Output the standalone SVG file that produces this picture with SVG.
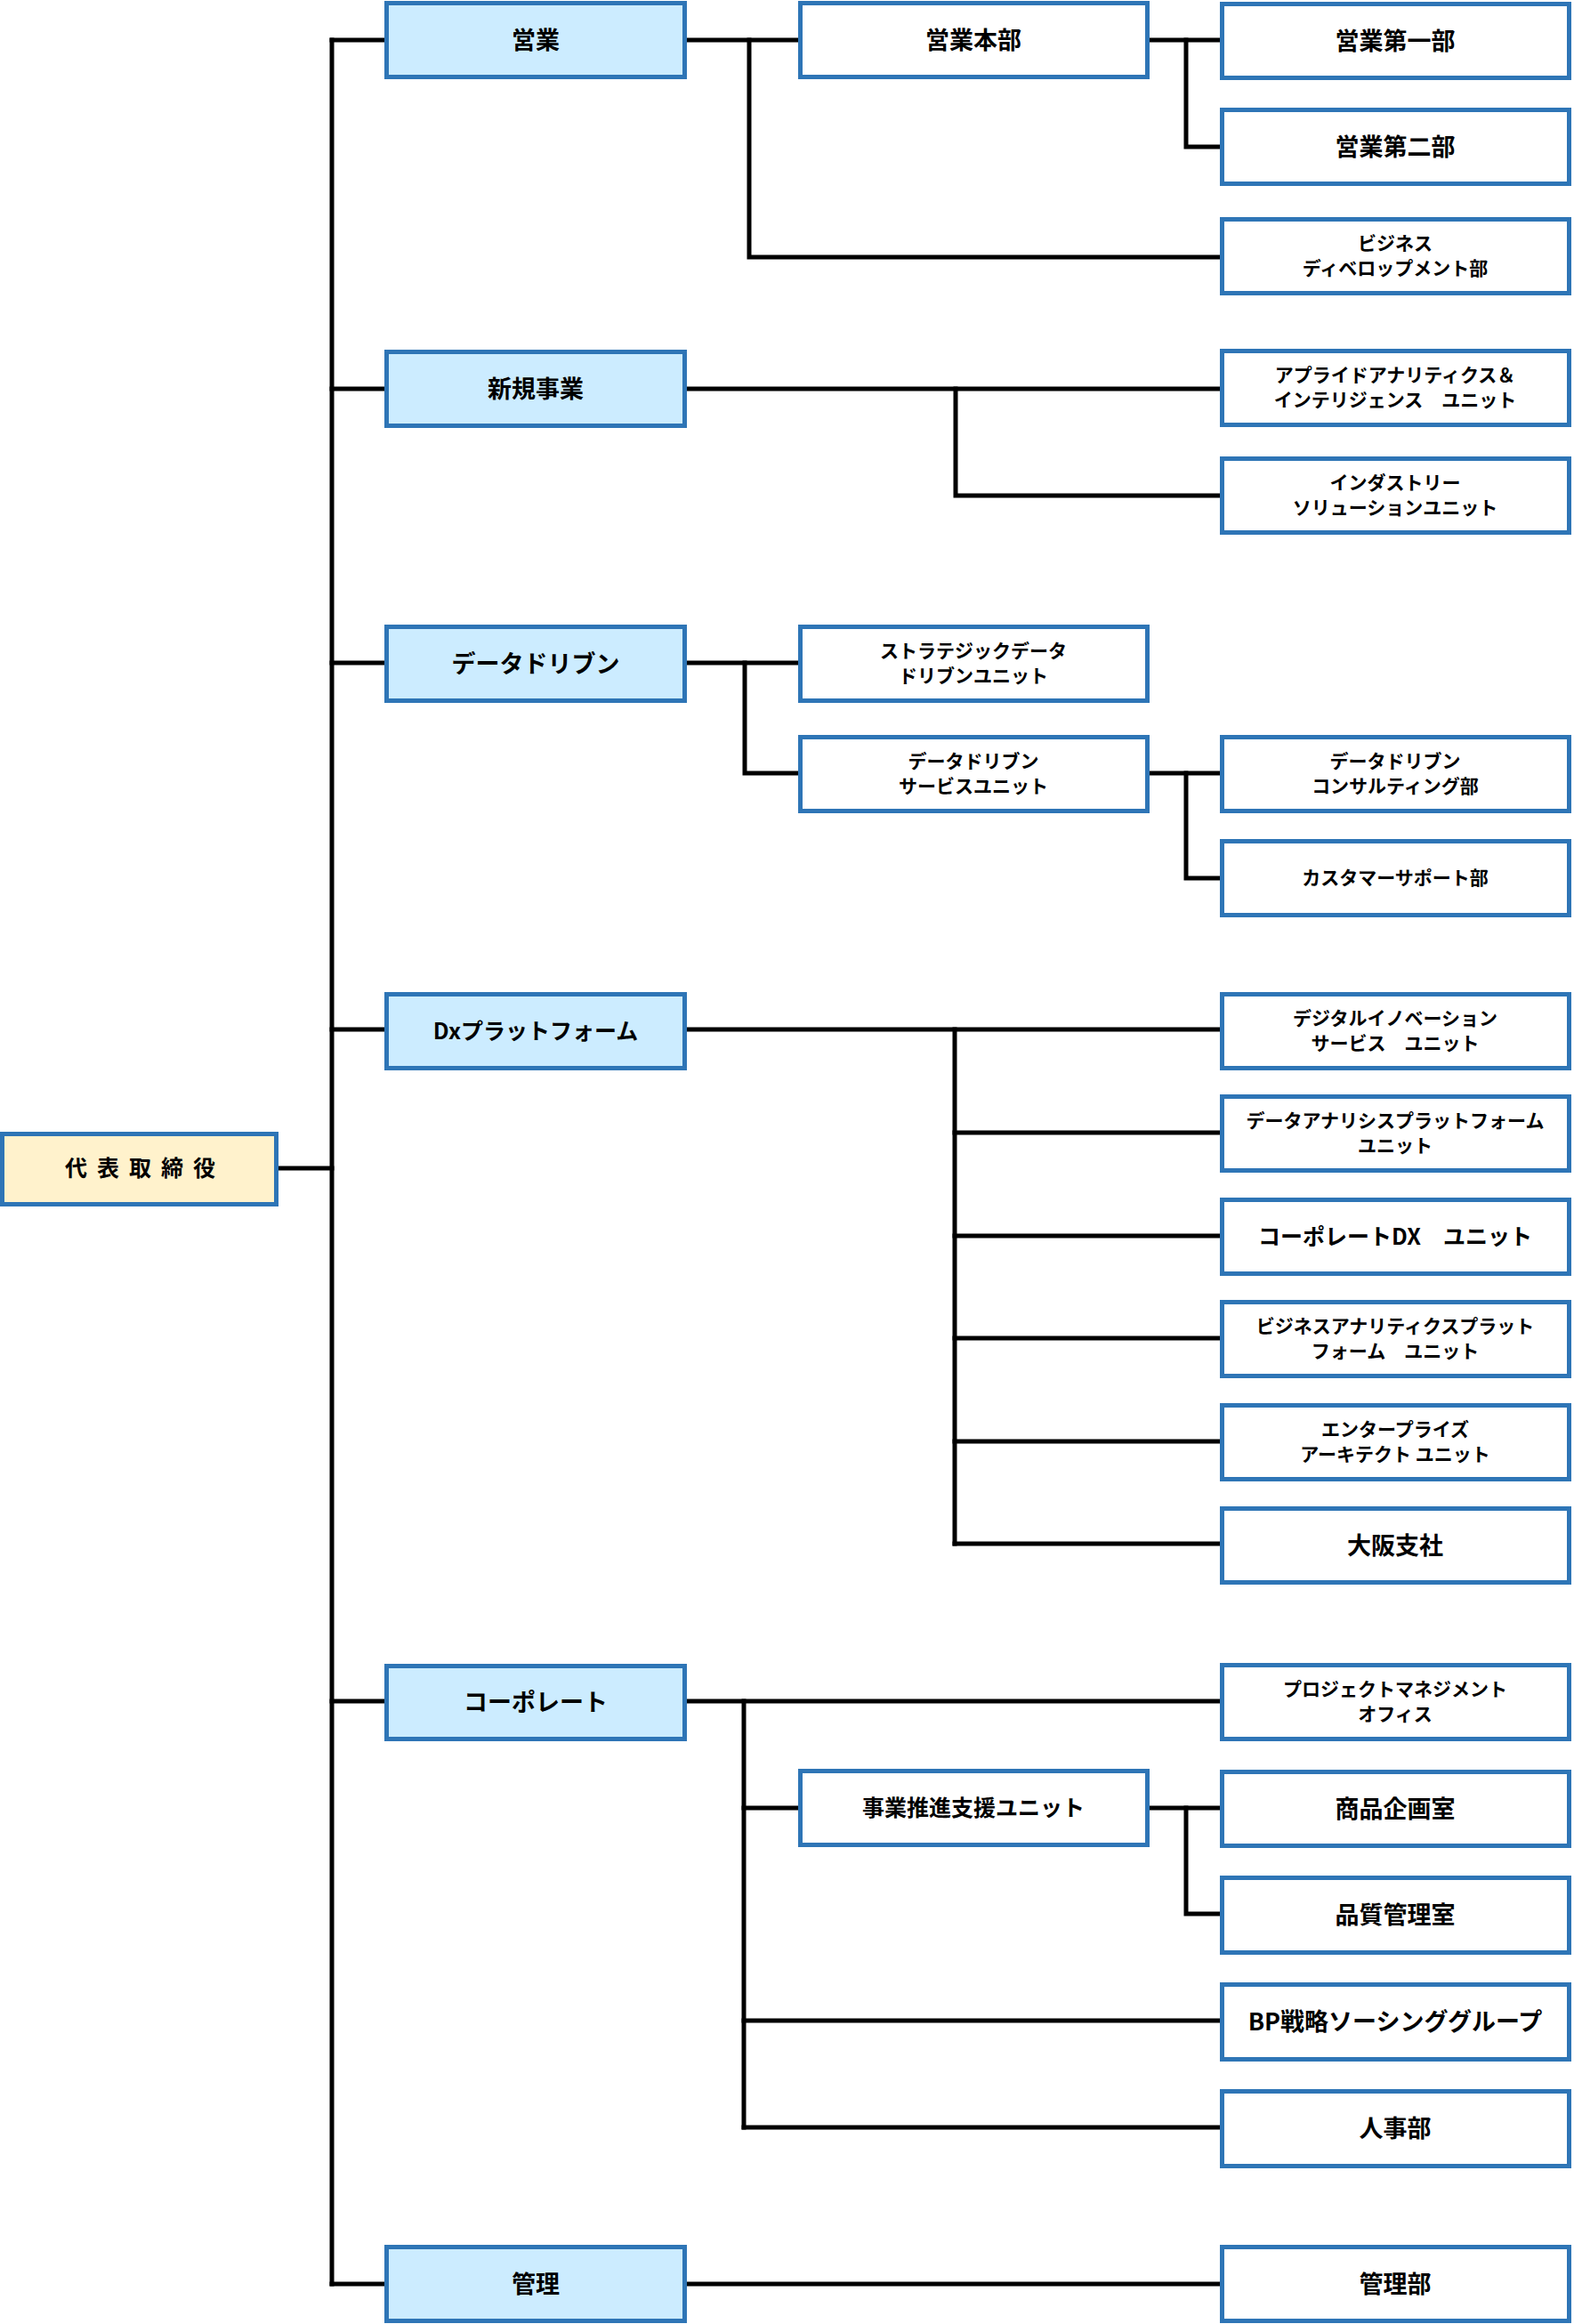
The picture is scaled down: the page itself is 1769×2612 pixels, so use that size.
<svg xmlns="http://www.w3.org/2000/svg" width="1769" height="2612" viewBox="0 0 1769 2612">
<style>
  .box { stroke: #2E75B6; stroke-width: 5; fill: #FFFFFF; }
  .l1 { fill: #CCECFF; }
  .root { fill: #FFF2CC; }
  .t { font-family: "Noto Sans CJK JP", "Noto Sans", sans-serif; font-weight: 700; fill: #000000; text-anchor: middle; dominant-baseline: central; }
  .big { font-size: 27px; }
  .mid { font-size: 25px; }
  .sm { font-size: 21px; }
  .conn line, .conn polyline { stroke: #000000; stroke-width: 5; fill: none; stroke-linecap: square; }
</style>
<rect x="0" y="0" width="1769" height="2612" fill="#FFFFFF"/>

<g class="conn" id="connectors">
  <line x1="311" y1="1313" x2="373" y2="1313"/>
  <line x1="373" y1="45" x2="373" y2="2567"/>
  <line x1="373" y1="45" x2="433" y2="45"/>
  <line x1="373" y1="437" x2="433" y2="437"/>
  <line x1="373" y1="745" x2="433" y2="745"/>
  <line x1="373" y1="1157" x2="433" y2="1157"/>
  <line x1="373" y1="1912" x2="433" y2="1912"/>
  <line x1="373" y1="2567" x2="433" y2="2567"/>
  <line x1="772" y1="45" x2="897" y2="45"/>
  <polyline points="842,45 842,289 1371,289"/>
  <line x1="1292" y1="45" x2="1371" y2="45"/>
  <polyline points="1333,45 1333,165 1371,165"/>
  <line x1="772" y1="437" x2="1371" y2="437"/>
  <polyline points="1074,437 1074,557 1371,557"/>
  <line x1="772" y1="745" x2="897" y2="745"/>
  <polyline points="837,745 837,869 897,869"/>
  <line x1="1292" y1="869" x2="1371" y2="869"/>
  <polyline points="1333,869 1333,987 1371,987"/>
  <line x1="772" y1="1157" x2="1371" y2="1157"/>
  <line x1="1073" y1="1157" x2="1073" y2="1735"/>
  <line x1="1073" y1="1273" x2="1371" y2="1273"/>
  <line x1="1073" y1="1389" x2="1371" y2="1389"/>
  <line x1="1073" y1="1504" x2="1371" y2="1504"/>
  <line x1="1073" y1="1620" x2="1371" y2="1620"/>
  <line x1="1073" y1="1735" x2="1371" y2="1735"/>
  <line x1="772" y1="1912" x2="1371" y2="1912"/>
  <line x1="836" y1="1912" x2="836" y2="2391"/>
  <line x1="836" y1="2032" x2="897" y2="2032"/>
  <line x1="836" y1="2271" x2="1371" y2="2271"/>
  <line x1="836" y1="2391" x2="1371" y2="2391"/>
  <line x1="1292" y1="2032" x2="1371" y2="2032"/>
  <polyline points="1333,2032 1333,2151 1371,2151"/>
  <line x1="772" y1="2567" x2="1371" y2="2567"/>
</g>

<g id="n-ceo">
  <rect class="box root" x="2.5" y="1274.5" width="308" height="79"/>
  <text class="t mid" x="163" y="1311" letter-spacing="11">代表取締役</text>
</g>

<g id="n-eigyo">
  <rect class="box l1" x="434.5" y="3.5" width="335" height="83"/>
  <text class="t big" x="602" y="43">営業</text>
</g>
<g id="n-shinki">
  <rect class="box l1" x="434.5" y="395.5" width="335" height="83"/>
  <text class="t big" x="602" y="435">新規事業</text>
</g>
<g id="n-datadriven">
  <rect class="box l1" x="434.5" y="704.5" width="335" height="83"/>
  <text class="t big" x="602" y="744">データドリブン</text>
</g>
<g id="n-dxplatform">
  <rect class="box l1" x="434.5" y="1117.5" width="335" height="83"/>
  <text class="t mid" x="602" y="1157">Dxプラットフォーム</text>
</g>
<g id="n-corporate">
  <rect class="box l1" x="434.5" y="1872.5" width="335" height="82"/>
  <text class="t big" x="602" y="1911">コーポレート</text>
</g>
<g id="n-kanri">
  <rect class="box l1" x="434.5" y="2525.5" width="335" height="83"/>
  <text class="t big" x="602" y="2565">管理</text>
</g>

<g id="n-eigyohonbu">
  <rect class="box" x="899.5" y="3.5" width="390" height="83"/>
  <text class="t big" x="1094" y="43">営業本部</text>
</g>
<g id="n-strategic">
  <rect class="box" x="899.5" y="704.5" width="390" height="83"/>
  <text class="t sm" x="1094" y="730">ストラテジックデータ</text>
  <text class="t sm" x="1094" y="758">ドリブンユニット</text>
</g>
<g id="n-dd-service">
  <rect class="box" x="899.5" y="828.5" width="390" height="83"/>
  <text class="t sm" x="1094" y="854">データドリブン</text>
  <text class="t sm" x="1094" y="882">サービスユニット</text>
</g>
<g id="n-jigyosuishin">
  <rect class="box" x="899.5" y="1990.5" width="390" height="83"/>
  <text class="t mid" x="1094" y="2030">事業推進支援ユニット</text>
</g>

<g id="n-eigyo1">
  <rect class="box" x="1373.5" y="4.5" width="390" height="83"/>
  <text class="t big" x="1568" y="44">営業第一部</text>
</g>
<g id="n-eigyo2">
  <rect class="box" x="1373.5" y="123.5" width="390" height="83"/>
  <text class="t big" x="1568" y="163">営業第二部</text>
</g>
<g id="n-bizdev">
  <rect class="box" x="1373.5" y="246.5" width="390" height="83"/>
  <text class="t sm" x="1568" y="272">ビジネス</text>
  <text class="t sm" x="1568" y="300">ディベロップメント部</text>
</g>
<g id="n-applied">
  <rect class="box" x="1373.5" y="394.5" width="390" height="83"/>
  <text class="t sm" x="1568" y="420">アプライドアナリティクス＆</text>
  <text class="t sm" x="1568" y="448">インテリジェンス　ユニット</text>
</g>
<g id="n-industry">
  <rect class="box" x="1373.5" y="515.5" width="390" height="83"/>
  <text class="t sm" x="1568" y="541">インダストリー</text>
  <text class="t sm" x="1568" y="569">ソリューションユニット</text>
</g>
<g id="n-dd-consulting">
  <rect class="box" x="1373.5" y="828.5" width="390" height="83"/>
  <text class="t sm" x="1568" y="854">データドリブン</text>
  <text class="t sm" x="1568" y="882">コンサルティング部</text>
</g>
<g id="n-customer">
  <rect class="box" x="1373.5" y="945.5" width="390" height="83"/>
  <text class="t sm" x="1568" y="985">カスタマーサポート部</text>
</g>
<g id="n-digital">
  <rect class="box" x="1373.5" y="1117.5" width="390" height="83"/>
  <text class="t sm" x="1568" y="1143">デジタルイノベーション</text>
  <text class="t sm" x="1568" y="1171">サービス　ユニット</text>
</g>
<g id="n-dataanalysis">
  <rect class="box" x="1373.5" y="1232.5" width="390" height="83"/>
  <text class="t sm" x="1568" y="1258">データアナリシスプラットフォーム</text>
  <text class="t sm" x="1568" y="1286">ユニット</text>
</g>
<g id="n-corpdx">
  <rect class="box" x="1373.5" y="1348.5" width="390" height="83"/>
  <text class="t mid" x="1568" y="1388">コーポレートDX　ユニット</text>
</g>
<g id="n-bizanalytics">
  <rect class="box" x="1373.5" y="1463.5" width="390" height="83"/>
  <text class="t sm" x="1568" y="1489">ビジネスアナリティクスプラット</text>
  <text class="t sm" x="1568" y="1517">フォーム　ユニット</text>
</g>
<g id="n-enterprise">
  <rect class="box" x="1373.5" y="1579.5" width="390" height="83"/>
  <text class="t sm" x="1568" y="1605">エンタープライズ</text>
  <text class="t sm" x="1568" y="1633">アーキテクト ユニット</text>
</g>
<g id="n-osaka">
  <rect class="box" x="1373.5" y="1695.5" width="390" height="83"/>
  <text class="t big" x="1568" y="1735">大阪支社</text>
</g>
<g id="n-pmo">
  <rect class="box" x="1373.5" y="1871.5" width="390" height="83"/>
  <text class="t sm" x="1568" y="1897">プロジェクトマネジメント</text>
  <text class="t sm" x="1568" y="1925">オフィス</text>
</g>
<g id="n-shohin">
  <rect class="box" x="1373.5" y="1991.5" width="390" height="83"/>
  <text class="t big" x="1568" y="2031">商品企画室</text>
</g>
<g id="n-hinshitsu">
  <rect class="box" x="1373.5" y="2110.5" width="390" height="84"/>
  <text class="t big" x="1568" y="2150">品質管理室</text>
</g>
<g id="n-bp">
  <rect class="box" x="1373.5" y="2230.5" width="390" height="84"/>
  <text class="t big" x="1568" y="2270">BP戦略ソーシンググループ</text>
</g>
<g id="n-jinji">
  <rect class="box" x="1373.5" y="2350.5" width="390" height="84"/>
  <text class="t big" x="1568" y="2390">人事部</text>
</g>
<g id="n-kanribu">
  <rect class="box" x="1373.5" y="2525.5" width="390" height="83"/>
  <text class="t big" x="1568" y="2565">管理部</text>
</g>
</svg>
